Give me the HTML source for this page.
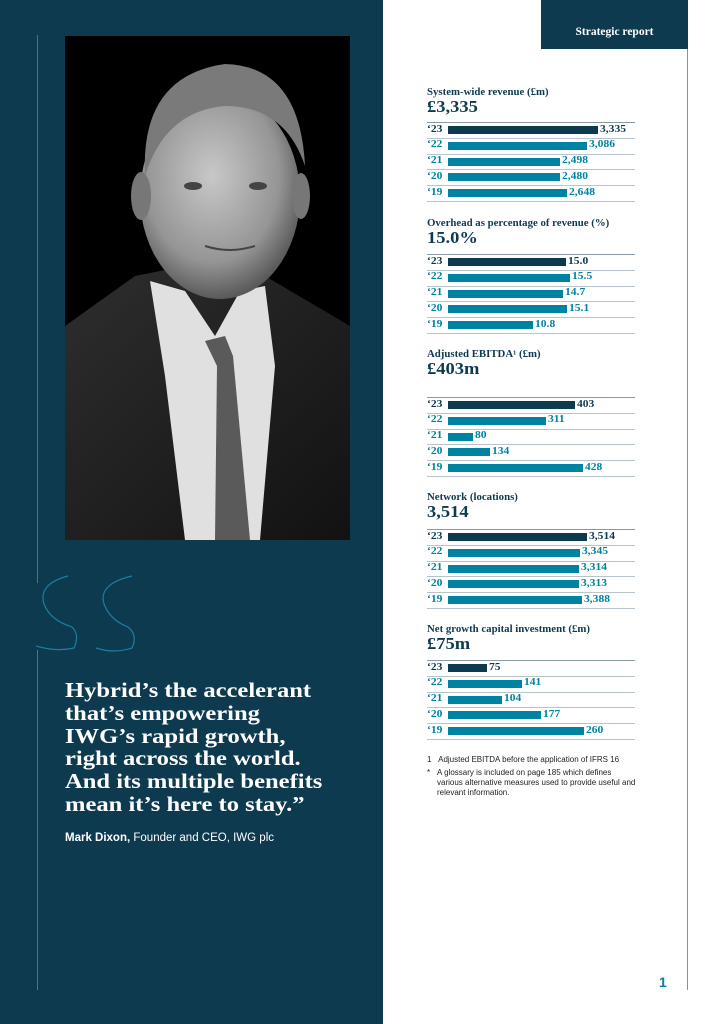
<!DOCTYPE html>
<html><head><meta charset="utf-8">
<style>
html,body{margin:0;padding:0}
body{width:724px;height:1024px;position:relative;background:#fff;overflow:hidden;font-family:"Liberation Serif",serif}
.abs{position:absolute}
#left{left:0;top:0;width:383px;height:1024px;background:#0e3a50}
.quote{left:65px;top:679px;color:#fff;font-weight:bold;font-size:21px;line-height:22.8px;margin:0;transform:scaleX(1.17);transform-origin:0 0;white-space:nowrap}
.attr{left:65px;top:832px;color:#fff;font-family:"Liberation Sans",sans-serif;font-size:11.5px}
.ctitle{font-weight:bold;font-size:10px;color:#0e3a50;left:427px;transform:scaleX(1.08);transform-origin:0 0;white-space:nowrap}
.cbig{font-weight:bold;font-size:16.5px;color:#0e3a50;left:427px;transform:scaleX(1.12);transform-origin:0 0}
.note{font-family:"Liberation Sans",sans-serif;font-size:8px;color:#222;left:427px;line-height:10px}
.lbl{font-weight:bold;font-size:10.5px;transform:scaleX(1.1);transform-origin:0 0}
</style></head>
<body>
<div id="left" class="abs"></div>
<div class="abs" style="left:37px;top:35px;width:1px;height:548px;background:#2a7f9e"></div>
<div class="abs" style="left:37px;top:650px;width:1px;height:340px;background:#2a7f9e"></div>

<svg class="abs" style="left:65px;top:36px" width="285" height="504" viewBox="0 0 285 504">
<defs>
<radialGradient id="face" cx="0.45" cy="0.4" r="0.6"><stop offset="0" stop-color="#c8c8c8"/><stop offset="0.7" stop-color="#959595"/><stop offset="1" stop-color="#5a5a5a"/></radialGradient>
<linearGradient id="suit" x1="0" y1="0" x2="1" y2="1"><stop offset="0" stop-color="#2e2e2e"/><stop offset="1" stop-color="#121212"/></linearGradient>
</defs>
<rect width="285" height="504" fill="#000"/>
<path d="M0 290 L70 240 L110 232 L200 240 L285 290 L285 504 L0 504Z" fill="url(#suit)"/>
<path d="M85 245 L120 255 L150 300 L175 255 L200 250 L210 330 L195 504 L120 504 L100 340Z" fill="#e0e0e0"/>
<path d="M140 305 L160 300 L168 320 L185 504 L150 504 L152 330Z" fill="#5a5a5a"/>
<ellipse cx="155" cy="160" rx="80" ry="103" fill="url(#face)"/>
<path d="M80 140 Q75 40 160 28 Q235 30 240 130 Q220 70 160 70 Q100 75 80 140Z" fill="#7a7a7a"/>
<ellipse cx="76" cy="160" rx="10" ry="24" fill="#777"/><ellipse cx="236" cy="160" rx="9" ry="23" fill="#777"/>
<ellipse cx="128" cy="150" rx="9" ry="4" fill="#444"/><ellipse cx="193" cy="150" rx="9" ry="4" fill="#444"/>
<path d="M140 210 Q165 218 190 210" stroke="#444" stroke-width="2" fill="none"/>
</svg>

<svg class="abs" style="left:36px;top:574px" width="104" height="82" viewBox="0 0 104 82">
<path d="M32 2 Q2 10 8 30 Q14 46 36 53 Q44 61 38 74 Q20 78 0 72" stroke="#1b7ea0" stroke-width="1.2" fill="none"/>
<path d="M96 2 Q62 10 68 30 Q74 46 92 53 Q102 61 96 74 Q78 80 60 74" stroke="#1b7ea0" stroke-width="1.2" fill="none"/>
</svg>

<p class="abs quote">Hybrid’s the accelerant<br>that’s empowering<br>IWG’s rapid growth,<br>right across the world.<br>And its multiple benefits<br>mean it’s here to stay.”</p>
<div class="abs attr"><b>Mark Dixon,</b> Founder and CEO, IWG plc</div>

<div class="abs" style="left:541px;top:0;width:147px;height:49px;background:#0e3a50;color:#fff;font-weight:bold;font-size:11.5px;text-align:center;line-height:64px">Strategic report</div>
<div class="abs" style="left:687px;top:49px;width:1px;height:941px;background:#5aa3be"></div>
<div class="abs" style="left:659px;top:974px;color:#0083a3;font-family:'Liberation Sans',sans-serif;font-weight:bold;font-size:14px">1</div>

<div id="charts"></div>

<div class="abs note" style="top:755px">1&nbsp;&nbsp;&nbsp;Adjusted EBITDA before the application of IFRS 16</div>
<div class="abs note" style="top:768px;padding-left:10px;width:200px">
<span style="position:absolute;left:0">*</span>A glossary is included on page 185 which defines various alternative measures used to provide useful and relevant information.</div>

<script>
const years = ["‘23","‘22","‘21","‘20","‘19"];
const revenueValues = [3335,3086,2498,2480,2648];
const revenueLabels = ["3,335","3,086","2,498","2,480","2,648"];
const overheadValues = [15.0,15.5,14.7,15.1,10.8];
const overheadLabels = ["15.0","15.5","14.7","15.1","10.8"];
const ebitdaValues = [403,311,80,134,428];
const ebitdaLabels = ["403","311","80","134","428"];
const networkValues = [3514,3345,3314,3313,3388];
const networkLabels = ["3,514","3,345","3,314","3,313","3,388"];
const capexValues = [75,141,104,177,260];
const capexLabels = ["75","141","104","177","260"];
const domainMax = [3335,19.1,476,3792,287];
const chartTitles = ["System-wide revenue (£m)","Overhead as percentage of revenue (%)","Adjusted EBITDA¹ (£m)","Network (locations)","Net growth capital investment (£m)"];
const chartHeadlines = ["£3,335","15.0%","£403m","3,514","£75m"];

const layout = [{t:87,l:122},{t:218,l:254},{t:349,l:397},{t:492,l:529},{t:624,l:660}];
const series = [revenueValues,overheadValues,ebitdaValues,networkValues,capexValues];
const labels = [revenueLabels,overheadLabels,ebitdaLabels,networkLabels,capexLabels];
const names = ["revenue","overhead","ebitda","network","capex"];
const root = document.getElementById('charts');
const X0 = 448, RANGE = 150, PITCH = 15.8;
function mk(cls, style, text){const d=document.createElement('div');d.className='abs '+(cls||'');d.style.cssText=style;if(text!==undefined)d.textContent=text;root.appendChild(d);return d;}
series.forEach((vals,ci)=>{
  const L = layout[ci];
  const xScale = v => v/domainMax[ci]*RANGE;
  const t = mk('ctitle','top:'+L.t+'px',chartTitles[ci]);
  
  
  const h = mk('cbig','top:'+(L.t+10)+'px',chartHeadlines[ci]);
  
  
  for(let i=0;i<=5;i++){
    const ln = mk('','left:427px;top:'+(L.l+i*PITCH)+'px;width:208px;height:1px;background:'+(i==0?'#8a9aa3':'#b8c4ca'));
    
    
  }
  vals.forEach((v,i)=>{
    const y = L.l + i*PITCH;
    const col = i==0 ? '#0e3a50' : '#0083a3';
    const yl = mk('lbl','left:427px;top:'+(y+1.5)+'px;color:'+col,years[i]);
    
    
    const w = xScale(v);
    const b = mk('','left:'+X0+'px;top:'+(y+4)+'px;width:'+w+'px;height:8px;background:'+col);
    
    
    const vl = mk('lbl','left:'+(X0+w+2)+'px;top:'+(y+1.5)+'px;color:'+col,labels[ci][i]);
    
    
  });
});
</script>
</body></html>
